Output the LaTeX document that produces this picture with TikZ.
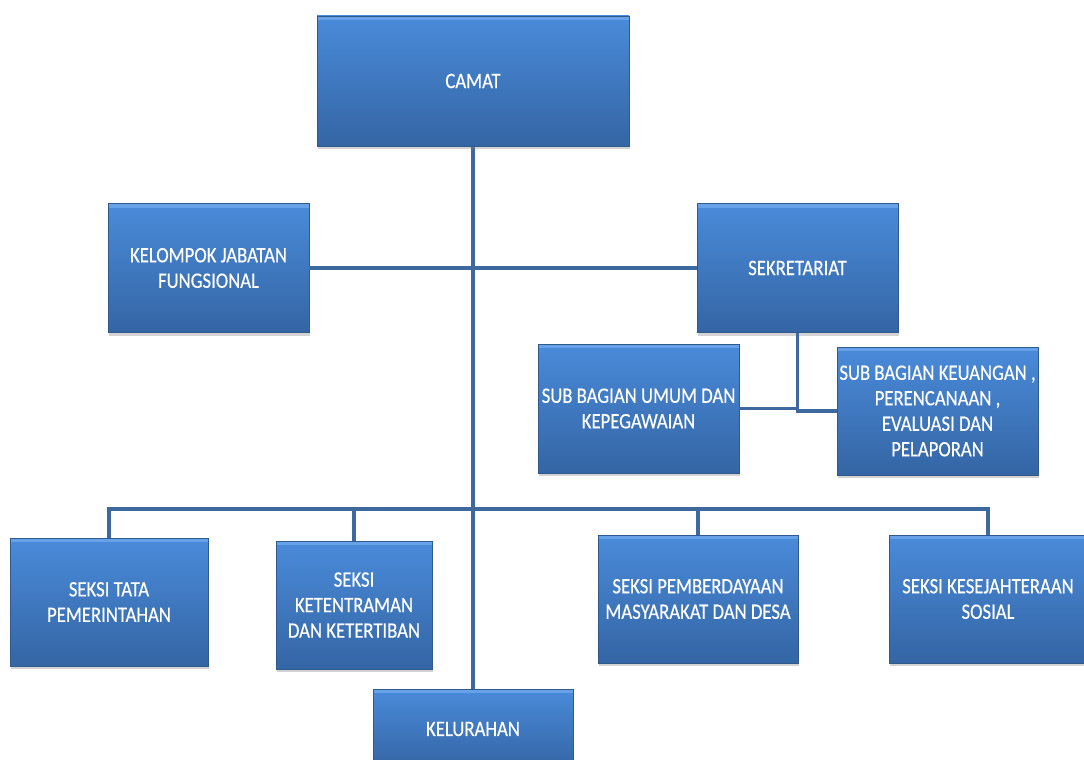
\documentclass[tikz,border=0pt]{standalone}
\usepackage{fontspec}
\setmainfont{Carlito}[FakeStretch=0.85,FakeBold=0.4]
\usetikzlibrary{shadows,calc}
\definecolor{unittop}{HTML}{4A8BDA}
\definecolor{unitbottom}{HTML}{3465A4}
\definecolor{unitedge}{HTML}{2E5A8E}
\definecolor{unitbevel}{HTML}{6FA8EC}
\definecolor{orgblue}{HTML}{3E699E}
\tikzset{
    unitbox/.style={rectangle,draw=unitedge,line width=0.8pt,top color=unittop,bottom color=unitbottom,
        text=white,align=center,inner sep=2pt,font=\fontsize{22}{25.5}\selectfont,
        drop shadow={shadow xshift=1pt,shadow yshift=-3pt,opacity=0.35},
        path picture={\fill[unitbevel,opacity=0.8] (path picture bounding box.north west) rectangle ([yshift=-4pt]path picture bounding box.north east);}},
    orgline/.style={draw=orgblue,line width=3.5pt}
}
\newcommand\drawunit[6]{%
    \node[unitbox,minimum width=#4pt,minimum height=#5pt] (#1) at (#2,#3) {#6}}
\begin{document}
\begin{tikzpicture}[x=1pt,y=-1pt]
            \useasboundingbox (0,0) rectangle (1084,760);
            \coordinate (bus) at (473,509);
            \draw[orgline] (473,146) -- (473,691);
            \drawunit{camat}{473}{81}{312}{130}{CAMAT};
            \drawunit{kjf}{208.5}{268}{201}{129}{KELOMPOK JABATAN\\FUNGSIONAL};
            \drawunit{sekre}{797.5}{268}{201}{129}{SEKRETARIAT};
            \drawunit{umum}{638.5}{408.5}{201}{129}{SUB BAGIAN UMUM DAN\\KEPEGAWAIAN};
            \drawunit{keu}{937.5}{411}{201}{128}{SUB BAGIAN KEUANGAN ,\\PERENCANAAN ,\\EVALUASI DAN\\PELAPORAN};
            \drawunit{tata}{109}{602}{198}{128}{SEKSI TATA\\PEMERINTAHAN};
            \drawunit{tentram}{354}{605}{156}{128}{SEKSI\\KETENTRAMAN\\DAN KETERTIBAN};
            \drawunit{berdaya}{698}{599}{200}{128}{SEKSI PEMBERDAYAAN\\MASYARAKAT DAN DESA};
            \drawunit{sejahtera}{988}{599}{198}{128}{SEKSI KESEJAHTERAAN\\SOSIAL};
            \drawunit{kelurahan}{473}{729}{200}{80}{KELURAHAN};
            \draw[orgline] (kjf.east) -- (sekre.west);
            \draw[orgline] (sekre.south) |- (umum.east);
            \draw[orgline] (sekre.south) |- (keu.west);
            \draw[orgline] (bus) -| (tata.north);
            \draw[orgline] (bus) -| (tentram.north);
            \draw[orgline] (bus) -| (berdaya.north);
            \draw[orgline] (bus) -| (sejahtera.north);
\end{tikzpicture}
\end{document}
